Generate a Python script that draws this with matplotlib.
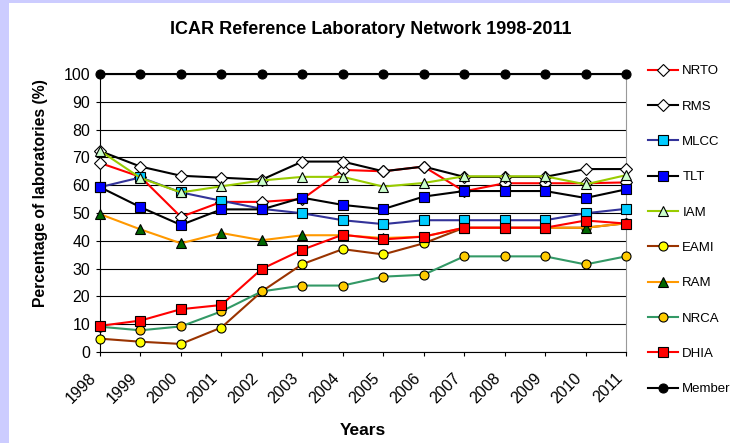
import matplotlib.pyplot as plt
import matplotlib.patches as patches
import matplotlib.transforms as mtransforms

plt.rcParams['font.family'] = ['Liberation Sans', 'DejaVu Sans']

years = ['1998', '1999', '2000', '2001', '2002', '2003', '2004',
         '2005', '2006', '2007', '2008', '2009', '2010', '2011']

nrto = [68, 63, 48.6, 54, 54, 55, 65.5, 65, 66.7, 57.8, 60.7, 60.7, 60.7, 61]
rms = [72.3, 66.7, 63.4, 62.7, 62, 68.5, 68.5, 65, 66.7, 63, 63, 63, 65.8, 65.8]
mlcc = [59.3, 62.8, 57.4, 54.4, 51.5, 49.9, 47.4, 46, 47.4, 47.4, 47.4, 47.4, 49.9, 51.5]
tlt = [59.3, 52.1, 45.7, 51.3, 51.3, 55.5, 52.9, 51.4, 55.9, 57.9, 57.9, 57.9, 55.4, 58.5]
iam = [72.4, 62.6, 57.4, 59.6, 61.7, 63, 63, 59.5, 60.8, 63.2, 63.2, 63.2, 60.3, 63.6]
eami = [4.8, 3.7, 2.9, 8.8, 21.8, 31.6, 37, 35.1, 39.1, 44.7, 44.7, 44.7, 44.7, 46.3]
ram = [49.6, 44.1, 39.1, 42.8, 40.2, 42, 42, 41, 41.5, 44.7, 44.7, 44.7, 44.7, 46.3]
nrca = [9.1, 7.8, 9.2, 14.6, 21.8, 23.9, 23.9, 27.1, 27.8, 34.4, 34.4, 34.4, 31.5, 34.4]
dhia = [9.4, 11.3, 15.4, 16.9, 29.9, 36.8, 42.2, 40.5, 41.5, 44.7, 44.7, 44.7, 47.3, 46.2]
members = [100] * 14

# label, values, line colour, marker, marker face, marker size
series = [
    ('NRTO', nrto, '#FF0000', 'D', 'white', 6),
    ('RMS', rms, '#000000', 'D', 'white', 6),
    ('MLCC', mlcc, '#333399', 's', '#00CCFF', 7),
    ('TLT', tlt, '#000000', 's', '#0000FF', 7),
    ('IAM', iam, '#99CC00', '^', '#CCFFCC', 7.5),
    ('EAMI', eami, '#993300', 'o', '#FFFF00', 6.5),
    ('RAM', ram, '#FF9900', '^', '#006600', 7.5),
    ('NRCA', nrca, '#339966', 'o', '#FFCC00', 6.5),
    ('DHIA', dhia, '#FF0000', 's', '#FF0000', 7),
    ('Members', members, '#000000', 'o', '#000000', 6.5),
]

fig = plt.figure(figsize=(7.3, 4.43), dpi=100, facecolor='#CCCCFF')
bg = patches.Rectangle((9 / 730, 0), 1, 1 - 3 / 443, transform=fig.transFigure,
                       facecolor='white', edgecolor='none', zorder=-10)
fig.patches.append(bg)
ax = fig.add_axes([100 / 730, 1 - 352 / 443, 526 / 730, 278 / 443])

x = list(range(len(years)))
for i, (name, vals, col, mk, face, ms) in enumerate(series):
    ax.plot(x, vals, color=col, lw=1.5, marker=mk, markerfacecolor=face,
            markeredgecolor='black', markeredgewidth=0.8, markersize=ms,
            label=name, clip_on=False, zorder=3 + i)

ax.set_xlim(0, len(years) - 1)
ax.set_ylim(0, 100)
ax.set_yticks(range(0, 101, 10))
ax.set_xticks(x)
ax.set_xticklabels(years, rotation=45, ha='right', va='center',
                   rotation_mode='anchor', fontsize=11.5)
ax.tick_params(axis='y', labelsize=11.5, length=3, direction='out', pad=4)
ax.tick_params(axis='x', length=3, direction='out', pad=14)
# nudge the slanted year labels a little to the left, as in the original
shift = mtransforms.ScaledTranslation(-6 / 100, 0, fig.dpi_scale_trans)
for lbl in ax.get_xticklabels():
    lbl.set_transform(lbl.get_transform() + shift)
ax.grid(axis='y', color='black', lw=0.8)
ax.set_axisbelow(True)
ax.spines['top'].set_visible(False)
ax.spines['right'].set_color('#999999')
ax.set_facecolor('white')

ax.set_ylabel('Percentage of laboratories (%)', fontsize=11.3, fontweight='bold')
ax.yaxis.set_label_coords(-0.099, 0.57)
ax.set_xlabel('Years', fontsize=12.5, fontweight='bold')
ax.xaxis.set_label_coords(0.5, -0.256)
fig.text(371 / 730, 1 - 30 / 443, 'ICAR Reference Laboratory Network 1998-2011',
         ha='center', va='center', fontsize=13, fontweight='bold')

ax.legend(loc='upper left', bbox_to_anchor=(648 / 730, 1 - 65 / 443),
          bbox_transform=fig.transFigure, frameon=False, fontsize=9.5,
          labelspacing=1.75, handlelength=2.25, handletextpad=0.35,
          borderaxespad=0, borderpad=0)

fig.savefig('out.png', dpi=100, facecolor=fig.get_facecolor())
